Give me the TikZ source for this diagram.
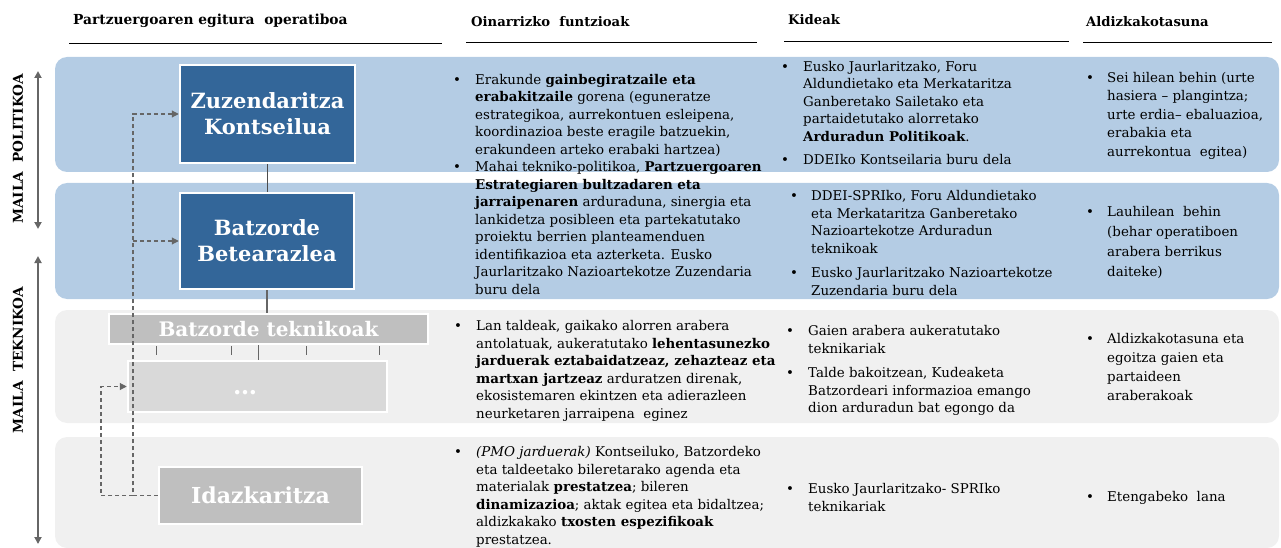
\documentclass[tikz,border=0pt]{standalone}
\usepackage{fontspec}
\setmainfont{DejaVu Serif}
\usetikzlibrary{arrows.meta}

\definecolor{bandblue}{HTML}{B4CCE4}
\definecolor{bandgray}{HTML}{F0F0F0}
\definecolor{boxblue}{HTML}{336699}
\definecolor{boxgray}{HTML}{BFBFBF}
\definecolor{boxlight}{HTML}{D9D9D9}
\definecolor{linegray}{HTML}{666666}

\newcommand{\bul}{\textbullet}

\tikzset{
  bandblue/.style={fill=bandblue, rounded corners=12pt},
  bandgray/.style={fill=bandgray, rounded corners=12pt},
  organ/.style={draw=white, line width=2.5pt, fill=boxblue, text=white, align=center,
    inner sep=0pt, font=\bfseries\fontsize{21}{26}\selectfont},
  techbox/.style={draw=white, line width=2.5pt, fill=boxgray, text=white, align=center,
    inner sep=0pt, font=\bfseries\fontsize{21}{26}\selectfont},
  header/.style={anchor=west, inner sep=0pt, font=\bfseries\fontsize{13.2}{15}\selectfont},
  coltext/.style={anchor=base west, inner sep=0pt, align=left,
    font=\fontsize{13.4}{17.5}\selectfont},
  levelarrow/.style={{Triangle[length=7pt,width=7pt]}-{Triangle[length=7pt,width=7pt]},
    linegray, line width=1.8pt},
  dasharrow/.style={-{Triangle[length=7pt,width=7pt]}, linegray, line width=1.1pt,
    dash pattern=on 4pt off 3pt},
  tick/.style={linegray, line width=1pt},
}

\begin{document}
\begin{tikzpicture}[x=1pt,y=-1pt]
\useasboundingbox (0,0) rectangle (1281,548);

% bands
\fill[bandblue] (55,57) rectangle (1279,172);
\fill[bandblue] (55,183) rectangle (1279,299);
\fill[bandgray] (55,310) rectangle (1279,423);
\fill[bandgray] (55,437) rectangle (1279,548);

% column headers
\node[header, font=\bfseries\fontsize{13.8}{15}\selectfont] (hegit) at (73,21) {Partzuergoaren egitura\ \ operatiboa};
\node[header] (hfunt) at (471,22) {Oinarrizko\ \ funtzioak};
\node[header] (hkide) at (788,20) {Kideak};
\node[header] (haldi) at (1086,22) {Aldizkakotasuna};
\draw[line width=0.9pt] (69,43) -- (442,43);
\draw[line width=0.9pt] (466,42) -- (757,42);
\draw[line width=0.9pt] (784,41) -- (1069,41);
\draw[line width=0.9pt] (1083,42) -- (1272,42);

% levels
\coordinate (pol1) at (38,71);
\coordinate (pol2) at (38,229);
\coordinate (tek1) at (38,256);
\coordinate (tek2) at (38,544);
\draw[levelarrow] (pol1) -- (pol2);
\draw[levelarrow] (tek1) -- (tek2);
\node[rotate=90, font=\bfseries\fontsize{13.6}{15}\selectfont] (lpol) at (18,149) {MAILA\ \ POLITIKOA};
\node[rotate=90, font=\bfseries\fontsize{13.6}{15}\selectfont] (ltek) at (18,360) {MAILA\ \ TEKNIKOA};

% organs
\node[organ, minimum width=175pt, minimum height=98pt] (kont) at (267.5,114) {Zuzendaritza\\Kontseilua};
\node[organ, minimum width=174pt, minimum height=96pt] (bete) at (267,241) {Batzorde\\Betearazlea};
\node[techbox, minimum width=319pt, minimum height=30pt, font=\bfseries\fontsize{20}{24}\selectfont] (tekn) at (268.5,329) {Batzorde teknikoak};
\node[techbox, fill=boxlight, minimum width=259pt, minimum height=51pt, font=\bfseries\fontsize{24}{26}\selectfont] (dots) at (257.5,386.5) {\raisebox{-8pt}[0pt][0pt]{\dots}\hspace{25pt}};
\node[techbox, minimum width=203pt, minimum height=57pt, font=\bfseries\fontsize{22}{26}\selectfont] (idaz) at (260.5,495.5) {Idazkaritza};

\draw[line width=1pt, black!70] (kont.south -| 267,0) -- (bete.north -| 267,0);
\draw[line width=2pt, linegray] (bete.south -| 267,0) -- (tekn.north -| 267,0);
\foreach \x in {156,231,306,379}
  \draw[tick] (\x,346) -- (\x,355);
\draw[tick] (tekn.south -| 258,0) -- (dots.north -| 258,0);

% secretariat links
\coordinate (jn) at (133,495.5);
\coordinate (jw) at (101,495.5);
\draw[dasharrow] (idaz.west) -- (jn) |- (kont.west);
\draw[dasharrow] (jn |- bete.west) -- (bete.west);
\draw[dasharrow] (jn) -- (jw) |- (dots.west);

% Oinarrizko funtzioak
\node[coltext] (f12) at (453,84.5) {\begin{tabular}[t]{@{}p{22pt}@{}l@{}}
\bul & Erakunde \textbf{gainbegiratzaile eta}\\
 & \textbf{erabakitzaile} gorena (eguneratze\\
 & estrategikoa, aurrekontuen esleipena,\\
 & koordinazioa beste eragile batzuekin,\\
 & erakundeen arteko erabaki hartzea)\\
\bul & Mahai tekniko-politikoa, \textbf{Partzuergoaren}\\
 & \textbf{Estrategiaren bultzadaren eta}\\
 & \textbf{jarraipenaren} arduraduna, sinergia eta\\
 & lankidetza posibleen eta partekatutako\\
 & proiektu berrien planteamenduen\\
 & identifikazioa eta azterketa. Eusko\\
 & Jaurlaritzako Nazioartekotze Zuzendaria\\
 & buru dela
\end{tabular}};
\node[coltext] (f3) at (454,330.5) {\begin{tabular}[t]{@{}p{22pt}@{}l@{}}
\bul & Lan taldeak, gaikako alorren arabera\\
 & antolatuak, aukeratutako \textbf{lehentasunezko}\\
 & \textbf{jarduerak eztabaidatzeaz, zehazteaz eta}\\
 & \textbf{martxan jartzeaz} arduratzen direnak,\\
 & ekosistemaren ekintzen eta adierazleen\\
 & neurketaren jarraipena\ \ eginez
\end{tabular}};
\node[coltext] (f4) at (454,456.5) {\begin{tabular}[t]{@{}p{22pt}@{}l@{}}
\bul & \textit{(PMO jarduerak)} Kontseiluko, Batzordeko\\
 & eta taldeetako bileretarako agenda eta\\
 & materialak \textbf{prestatzea}; bileren\\
 & \textbf{dinamizazioa}; aktak egitea eta bidaltzea;\\
 & aldizkakako \textbf{txosten espezifikoak}\\
 & prestatzea.
\end{tabular}};

% Kideak
\node[coltext] (k1) at (781,71.5) {\begin{tabular}[t]{@{}p{22pt}@{}l@{}}
\bul & Eusko Jaurlaritzako, Foru\\
 & Aldundietako eta Merkataritza\\
 & Ganberetako Sailetako eta\\
 & partaidetutako alorretako\\
 & \textbf{Arduradun Politikoak}.\\[6pt]
\bul & DDEIko Kontseilaria buru dela
\end{tabular}};
\node[coltext] (k2) at (790,200.5) {\begin{tabular}[t]{@{}p{21pt}@{}l@{}}
\bul & DDEI-SPRIko, Foru Aldundietako\\
 & eta Merkataritza Ganberetako\\
 & Nazioartekotze Arduradun\\
 & teknikoak\\[7pt]
\bul & Eusko Jaurlaritzako Nazioartekotze\\
 & Zuzendaria buru dela
\end{tabular}};
\node[coltext] (k3) at (786,335.5) {\begin{tabular}[t]{@{}p{22pt}@{}l@{}}
\bul & Gaien arabera aukeratutako\\
 & teknikariak\\[7pt]
\bul & Talde bakoitzean, Kudeaketa\\
 & Batzordeari informazioa emango\\
 & dion arduradun bat egongo da
\end{tabular}};
\node[coltext] (k4) at (786,493.5) {\begin{tabular}[t]{@{}p{22pt}@{}l@{}}
\bul & Eusko Jaurlaritzako- SPRIko\\
 & teknikariak
\end{tabular}};

% Aldizkakotasuna
\node[coltext, font=\fontsize{13.4}{18.5}\selectfont] (a1) at (1086,82.5) {\begin{tabular}[t]{@{}p{21pt}@{}l@{}}
\bul & Sei hilean behin (urte\\
 & hasiera -- plangintza;\\
 & urte erdia-- ebaluazioa,\\
 & erabakia eta\\
 & aurrekontua\ \ egitea)
\end{tabular}};
\node[coltext, font=\fontsize{13.4}{20}\selectfont] (a2) at (1086,216.5) {\begin{tabular}[t]{@{}p{21pt}@{}l@{}}
\bul & Lauhilean\ \ behin\\
 & (behar operatiboen\\
 & arabera berrikus\\
 & daiteke)
\end{tabular}};
\node[coltext, font=\fontsize{13.4}{19}\selectfont] (a3) at (1086,343.5) {\begin{tabular}[t]{@{}p{21pt}@{}l@{}}
\bul & Aldizkakotasuna eta\\
 & egoitza gaien eta\\
 & partaideen\\
 & araberakoak
\end{tabular}};
\node[coltext] (a4) at (1086,501.5) {\begin{tabular}[t]{@{}p{21pt}@{}l@{}}
\bul & Etengabeko\ \ lana
\end{tabular}};
\end{tikzpicture}
\end{document}
